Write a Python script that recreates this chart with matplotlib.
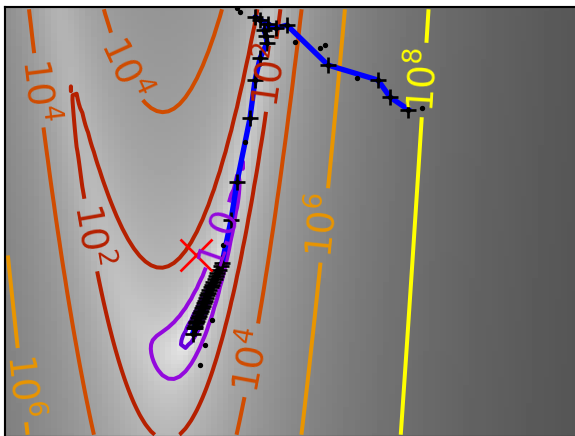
import matplotlib
matplotlib.use('Agg')
import matplotlib.pyplot as plt
import numpy as np

# domaine du graphique
x_min, x_max = -1.44, 2.88
y_min, y_max = -1.368, 1.872

# niveaux des contours (log) et leurs etiquettes
niveaux = [-4, -2, 0, 2, 4, 6, 8]
etiquettes = {-4: '0.02', -2: '0.1', 0: '1.0', 2: '$10^{2}$', 4: '$10^{4}$',
              6: '$10^{6}$', 8: '$10^{8}$'}

# positions des etiquettes
pos_etiquettes = [(-0.498, 1.435), (-1.176, 1.246), (0.558, 1.359), (-0.70, 0.17),
                  (0.166, 0.153), (0.950, 0.228), (-1.312, -0.978), (0.407, -0.789),
                  (1.727, 1.322)]

# iterations de l'optimiseur
iter_x = [1.6, 1.463, 1.372, 0.995, 0.686, 0.603, 0.482, 0.445, 0.543, 0.513, 0.528,
          0.535, 0.483, 0.445, 0.407, 0.309, 0.264, 0.196, 0.185, 0.173, 0.16, 0.151,
          0.14, 0.128, 0.12, 0.113, 0.10, 0.09, 0.082, 0.075, 0.065, 0.06, 0.05, 0.045,
          0.035, 0.03, 0.02, 0.015, 0.005, 0.0, -0.01, -0.015, -0.023, -0.01, 0.0]
iter_y = [1.1, 1.193, 1.322, 1.435, 1.736, 1.714, 1.774, 1.797, 1.744, 1.699, 1.653,
          1.601, 1.487, 1.322, 1.035, 0.553, 0.266, -0.058, -0.08, -0.111, -0.13, -0.156,
          -0.18, -0.201, -0.225, -0.239, -0.26, -0.284, -0.30, -0.322, -0.345, -0.36,
          -0.385, -0.397, -0.42, -0.435, -0.46, -0.473, -0.495, -0.51, -0.53, -0.548,
          -0.593, -0.55, -0.5]

# evaluations supplementaires de la fonction
eval_x = [1.704, 1.214, 0.973, 0.936, 0.746, 0.332, 0.309, 0.369, 0.204, 0.121, 0.068, 0.030]
eval_y = [1.111, 1.337, 1.585, 1.563, 1.608, 1.834, 1.864, 0.854, 0.078, -0.488, -0.676, -0.827]


def rosenbrock(x, y):
    y0 = 4 * x + 1
    y1 = 4 * y + 3
    return .5 * (1 - y0) ** 2 + (y1 - y0 ** 2) ** 2


x, y = np.mgrid[x_min:x_max:100j, y_min:y_max:100j]
x = x.T
y = y.T
log_z = np.log(rosenbrock(x, y) + .01)

dpi = 575 / 3
fig = plt.figure(figsize=(575 / dpi, 436 / dpi), dpi=dpi)
ax = fig.add_axes([5 / 575, -1 / 436, 573 / 575, 430 / 436])

ax.imshow(log_z, extent=[x_min, x_max, y_min, y_max], cmap=plt.cm.gray_r,
          origin='lower', vmax=log_z.min() + 1.5 * np.ptp(log_z))
contours = ax.contour(log_z, levels=niveaux, extent=[x_min, x_max, y_min, y_max],
                      cmap=plt.cm.gnuplot, origin='lower')
ax.clabel(contours, inline=1, fmt=lambda v: etiquettes[int(round(v))], fontsize=14,
          manual=pos_etiquettes)

ax.plot(iter_x, iter_y, 'b-', linewidth=2)
ax.plot(iter_x, iter_y, 'k+')
ax.plot(iter_x + eval_x, iter_y + eval_y, 'k.', markersize=2)
ax.plot([0], [0], 'rx', markersize=12)

ax.set_xticks(())
ax.set_yticks(())
ax.set_xlim(x_min, x_max)
ax.set_ylim(y_min, y_max)

fig.savefig('out.png', dpi=dpi)
